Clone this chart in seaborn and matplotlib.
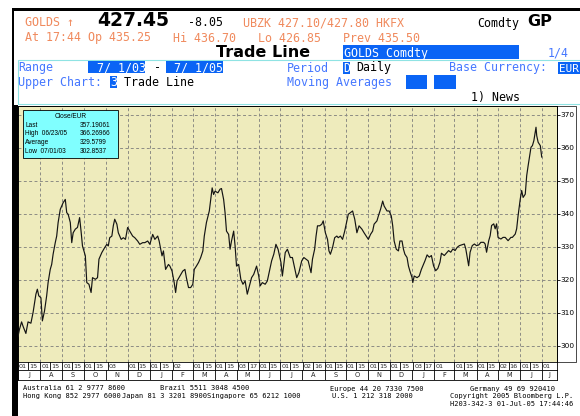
import numpy as np
import pandas as pd
import matplotlib
matplotlib.use("Agg")
import matplotlib.pyplot as plt
from matplotlib.patches import Rectangle
import seaborn as sns

# ---------------- data ----------------
start_date = "2003-07-01"
days = [0, 2, 5, 7, 11, 14, 18, 21, 25, 27, 29, 32, 34, 37, 40, 42, 45, 47, 49, 52,
        54, 56, 59, 61, 63, 66, 68, 70, 73, 75, 77, 80, 83, 86, 88, 90, 94, 96, 99, 102,
        104, 108, 111, 113, 117, 121, 124, 126, 128, 131, 133, 135, 138, 140, 144, 147,
        150, 153, 156, 160, 163, 167, 170, 174, 177, 181, 184, 188, 191,
        195, 197, 201, 203, 206, 210, 212, 215, 218, 220, 222, 226, 230, 233, 235, 238,
        241, 244, 246, 249, 252, 255, 258, 260, 263, 267, 269, 271, 273, 275, 279, 282,
        284, 287, 289, 291, 294, 296, 298, 301, 303, 305, 308, 311, 314, 317, 320, 323,
        326, 329, 333, 336, 338, 341, 345, 348, 351, 354, 357, 360, 363, 367, 369, 373,
        376, 380,
        383, 386, 389, 392, 396, 399, 402, 405, 409, 411, 414, 416, 418, 421, 424, 426,
        429, 432, 434, 436, 439, 442, 445, 447, 450, 453, 456, 459, 461, 464, 467, 470,
        473, 476, 480, 483, 486, 489, 492, 495, 497, 501, 503, 506, 509, 511, 515, 518,
        521, 523, 525, 528, 531, 533, 536, 538, 540, 543, 545, 547, 550, 551, 553, 557,
        560, 563, 568,
        571, 574, 577, 580, 583, 586, 589, 591, 595, 597, 601, 604, 607, 610, 613, 616,
        619, 623, 625, 629, 631, 634, 637, 640, 643, 646, 650, 652, 654, 657, 659, 661,
        664, 666, 668, 670, 674, 677, 680, 682, 684, 688, 690, 694, 696, 698, 701, 703,
        705, 708, 710, 712, 715, 716, 718, 720, 723, 724, 726, 729, 731]
close = [302.85, 305.0, 307.3, 306.0, 303.8, 307.3, 306.9, 310.1, 315.7, 317.2, 315.2, 314.6,
         307.6, 310.6, 315.2, 319.2, 323.2, 324.7, 327.8, 331.3, 333.3, 337.4, 341.4, 342.4,
         343.4, 344.4, 340.4, 339.9, 337.4, 331.3, 334.3, 335.4, 335.9, 338.9, 334.8, 330.3,
         327.3, 319.2, 318.7, 316.2, 320.7, 320.2, 320.7, 326.3, 328.3, 329.8, 330.8, 330.3,
         332.8, 333.3, 336.4, 338.4, 336.9, 334.3, 332.3, 332.8, 332.3, 335.9, 334.8, 333.3,
         332.8, 331.8, 330.8, 331.3, 331.3, 331.8, 330.8, 333.8, 332.3,
         333.3, 331.8, 327.3, 328.8, 323.2, 324.7, 324.2, 322.7, 319.2, 316.2, 319.7, 321.2,
         322.7, 323.2, 320.7, 317.7, 317.7, 318.7, 323.2, 324.2, 325.3, 326.8, 328.8, 333.3,
         337.4, 340.9, 344.4, 347.9, 345.9, 346.9, 346.4, 347.5, 347.7, 344.4, 340.4, 334.8,
         333.8, 329.3, 331.8, 334.8, 330.3, 324.2, 324.7, 320.2, 318.7, 319.7, 315.7, 318.2,
         320.7, 321.7, 324.2, 321.2, 318.2, 319.2, 318.7, 319.7, 322.7, 325.8, 327.8, 330.8,
         329.3, 325.3, 321.2, 328.3, 329.3, 326.8,
         326.8, 323.7, 320.7, 322.2, 325.8, 326.8, 326.3, 325.8, 322.2, 326.3, 329.3, 333.3,
         336.4, 336.4, 336.9, 337.9, 334.3, 332.3, 328.8, 327.8, 329.8, 332.8, 333.3, 332.8,
         333.3, 332.3, 334.8, 337.9, 339.9, 340.4, 340.9, 338.4, 334.3, 336.4, 335.4, 334.3,
         333.3, 332.3, 333.8, 334.8, 336.9, 337.9, 339.4, 341.4, 343.9, 342.4, 340.9, 340.9,
         339.4, 336.4, 331.8, 329.3, 328.8, 331.8, 331.8, 329.3, 327.8, 326.8, 324.2, 322.7,
         320.7, 319.2, 321.2, 320.7, 321.2, 323.2, 325.8,
         327.6, 326.9, 327.4, 324.3, 322.8, 323.5, 325.4, 328.1, 327.4, 327.9, 328.9, 328.4,
         329.4, 328.9, 329.9, 330.4, 330.6, 330.9, 329.4, 324.3, 328.4, 330.4, 330.9, 330.4,
         330.6, 331.4, 331.4, 330.9, 328.4, 331.9, 333.4, 336.5, 337.0, 335.5, 337.0, 332.9,
         332.4, 332.9, 332.9, 332.4, 331.9, 332.9, 332.9, 333.9, 335.5, 339.5, 344.5, 347.1,
         345.0, 346.0, 351.6, 354.6, 358.7, 360.2, 360.7, 362.2, 366.27, 363.7, 361.7, 360.7,
         357.19]
assert len(days) == len(close)

y_ticks = [300, 310, 320, 330, 340, 350, 360, 370]
month_letters = ["J", "A", "S", "O", "N", "D", "J", "F", "M", "A", "M", "J", "J",
                 "A", "S", "O", "N", "D", "J", "F", "M", "A", "M", "J", "J"]
day_label_dates = ["2003-07-01", "2003-07-15", "2003-08-01", "2003-08-15", "2003-09-01",
                   "2003-09-15", "2003-10-01", "2003-10-15", "2003-11-03", "2003-12-01",
                   "2003-12-15", "2004-01-01", "2004-01-15", "2004-02-02", "2004-03-01",
                   "2004-03-15", "2004-04-01", "2004-04-15", "2004-05-03", "2004-05-17",
                   "2004-06-01", "2004-06-15", "2004-07-01", "2004-07-15", "2004-08-02",
                   "2004-08-16", "2004-09-01", "2004-09-15", "2004-10-01", "2004-10-15",
                   "2004-11-01", "2004-11-15", "2004-12-01", "2004-12-15", "2005-01-03",
                   "2005-01-17", "2005-02-01", "2005-03-01", "2005-03-15", "2005-04-01",
                   "2005-04-15", "2005-05-02", "2005-05-16", "2005-06-01", "2005-06-15",
                   "2005-07-01"]
legend_title = "Close/EUR"
legend_labels = ["Last", "High  06/23/05", "Average", "Low  07/01/03"]
legend_values = ["357.19061", "366.26966", "329.5799", "302.8537"]

# ---------------- style ----------------
W, H = 580, 416
sns.set_theme(style="white")
plt.rcParams["font.family"] = ["DejaVu Sans"]

ORANGE = "#F08A5D"
LBLUE = "#4678FF"
BOX = "#0A64F5"
CYAN = "#8FE3E3"
BG = "#EEEBBC"
GRID = "#8C8C84"
MONO = ["DejaVu Sans Mono", "DejaVu Sans"]

fig = plt.figure(figsize=(W / 100, H / 100), dpi=100)
fig.patch.set_facecolor("white")


def ftext(x, y, s, size=8.4, color="black", family=MONO, weight="normal",
          ha="left", va="baseline", z=5):
    fig.text(x / W, 1 - y / H, s, fontsize=size, color=color, family=family,
             weight=weight, ha=ha, va=va, zorder=z)


def frect(x0, y0, x1, y1, fc="none", ec="none", lw=0.0, z=2):
    fig.add_artist(Rectangle((x0 / W, 1 - y1 / H), (x1 - x0) / W, (y1 - y0) / H,
                             transform=fig.transFigure, facecolor=fc, edgecolor=ec,
                             linewidth=lw, zorder=z))


# ---------------- main chart ----------------
L, R, T, B = 17.5, 556.5, 106, 361.5
XMIN, XMAX = -0.7, 751.6
start = pd.Timestamp(start_date)
month_offsets = [(d - start).days for d in pd.date_range("2003-07-01", "2005-07-01", freq="MS")]

ax = fig.add_axes([L / W, 1 - B / H, (R - L) / W, (B - T) / H])
ax.set_facecolor(BG)
df = pd.DataFrame({"day": days, "close": close})
sns.lineplot(data=df, x="day", y="close", ax=ax, color="#141414", linewidth=0.85,
             estimator=None, zorder=3)
for m in month_offsets:
    ax.axvline(m, color=GRID, lw=0.7, ls=(0, (3, 2.5)), zorder=1)
for v in y_ticks:
    ax.axhline(v, color=GRID, lw=0.7, ls=(0, (3, 2.5)), zorder=1)
ax.set_xlim(XMIN, XMAX)
ax.set_ylim(295.3, 372.7)
ax.set_xlabel("")
ax.set_ylabel("")
ax.set_xticks([])
ax.set_yticks(y_ticks)
ax.set_yticklabels([str(v) for v in y_ticks])
ax.yaxis.tick_right()
ax.tick_params(axis="y", labelsize=5.3, length=2, width=0.6, pad=0.8, colors="black",
               right=True, left=False, labelright=True, labelleft=False)
for s in ax.spines.values():
    s.set_color("black")
    s.set_linewidth(0.7)

# date row
ax_d = fig.add_axes([L / W, 1 - 369.5 / H, (R - L) / W, (369.5 - B) / H])
ax_d.set_xlim(XMIN, XMAX)
ax_d.set_ylim(0, 1)
for ds in day_label_dates:
    d = pd.Timestamp(ds)
    off = (d - start).days
    ax_d.axvline(off, color="black", lw=0.6)
    ax_d.text(off + 1.3, 0.42, d.strftime("%d"), fontsize=4.6, ha="left", va="center")
ax_d.set_xticks([])
ax_d.set_yticks([])

# month row
ax_m = fig.add_axes([L / W, 1 - 380 / H, (R - L) / W, (380 - 369.5) / H])
ax_m.set_xlim(XMIN, XMAX)
ax_m.set_ylim(0, 1)
edges = month_offsets + [XMAX]
for i, letter in enumerate(month_letters):
    ax_m.axvline(edges[i], color="black", lw=0.6)
    ax_m.text((edges[i] + edges[i + 1]) / 2, 0.45, letter, fontsize=4.8,
              ha="center", va="center")
ax_m.set_xticks([])
ax_m.set_yticks([])
for a in (ax_d, ax_m):
    for s in a.spines.values():
        s.set_color("black")
        s.set_linewidth(0.6)

# right label column frame
frect(R, T, 575.5, B, ec="black", lw=0.5, z=3)

# legend box
frect(23.3, 110, 117.7, 158.3, fc="#80FFFF", ec="black", lw=0.6, z=6)
ftext(70.5, 118, legend_title, size=4.7, family=["Liberation Sans"], ha="center", z=7)
for i, (lab, val) in enumerate(zip(legend_labels, legend_values)):
    yb = 126.6 + i * 8.75
    ftext(25, yb, lab, size=4.7, family=["Liberation Sans"], z=7)
    ftext(80, yb, val, size=4.7, family=["Liberation Sans"], z=7)

# ---------------- frame & header ----------------
frect(11.5, 8, 580, 10.7, fc="black", z=4)
frect(11.5, 8, 13.5, 416, fc="black", z=4)
frect(11.5, 105, 17.5, 416, fc="black", z=4)

ftext(25, 26.5, "GOLDS ↑", color=ORANGE)
ftext(97, 26.5, "427.45", size=13.5, family=["DejaVu Sans"], weight="bold")
ftext(188, 26.5, "-8.05")
ftext(243, 26.5, "UBZK 427.10/427.80 HKFX", color=ORANGE)
ftext(477, 26.5, "Comdty")
ftext(527, 26.5, "GP", size=11.5, family=["DejaVu Sans"], weight="bold")

ftext(25, 41.5, "At 17:44 Op 435.25", color=ORANGE)
ftext(173.3, 41.5, "Hi 436.70", color=ORANGE)
ftext(258.3, 41.5, "Lo 426.85", color=ORANGE)
ftext(342.7, 41.5, "Prev 435.50", color=ORANGE)

ftext(263.5, 57, "Trade Line", size=11.5, family=["DejaVu Sans"], weight="bold", ha="center")
frect(342.7, 45, 519.3, 59, fc=BOX)
ftext(344, 56.5, "GOLDS Comdty", color="white")
ftext(548, 56.5, "1/4", color=LBLUE)

frect(18, 60.5, 585, 104, ec=CYAN, lw=0.8, z=2)

ftext(18.5, 71.5, "Range", color=LBLUE)
frect(88.3, 60.5, 145, 73.3, fc=BOX)
ftext(96.7, 71.5, "7/ 1/03", color="white")
ftext(157, 71.5, "-", ha="center")
frect(166, 60.5, 223, 73.3, fc=BOX)
ftext(174.4, 71.5, "7/ 1/05", color="white")
ftext(287.3, 71.5, "Period", color=LBLUE)
frect(342.7, 61.5, 350, 74, fc=BOX)
ftext(343.3, 71.5, "D", color="white")
ftext(356.7, 71.5, "Daily")
ftext(449.3, 71.5, "Base Currency:", color=LBLUE)
frect(558, 61.5, 581, 74, fc=BOX)
ftext(558.8, 71.5, "EUR", size=7.9, color="white")

ftext(18.5, 86, "Upper Chart:", color=LBLUE)
frect(110, 76, 116.7, 87.5, fc=BOX)
ftext(110, 86, "3", color="white")
ftext(124, 86, "Trade Line")
ftext(287.3, 86, "Moving Averages", color=LBLUE)
frect(406, 75, 427.3, 89.3, fc=BOX)
frect(434.3, 75, 455.7, 89.3, fc=BOX)

ftext(471, 101, "1) News")

# ---------------- footer ----------------
FS = 5.0
ftext(22.7, 390.5, "Australia 61 2 9777 8600", size=FS)
ftext(160, 390.5, "Brazil 5511 3048 4500", size=FS)
ftext(330, 390.5, "Europe 44 20 7330 7500", size=FS)
ftext(470, 390.5, "Germany 49 69 920410", size=FS)
ftext(22.7, 398.3, "Hong Kong 852 2977 6000", size=FS)
ftext(121.7, 398.3, "Japan 81 3 3201 8900", size=FS)
ftext(206.7, 398.3, "Singapore 65 6212 1000", size=FS)
ftext(331.7, 398.3, "U.S. 1 212 318 2000", size=FS)
ftext(573, 398.3, "Copyright 2005 Bloomberg L.P.", size=FS, ha="right")
ftext(573, 406.5, "H203-342-3 01-Jul-05 17:44:46", size=FS, ha="right")

fig.savefig("out.png", dpi=100, facecolor="white")
